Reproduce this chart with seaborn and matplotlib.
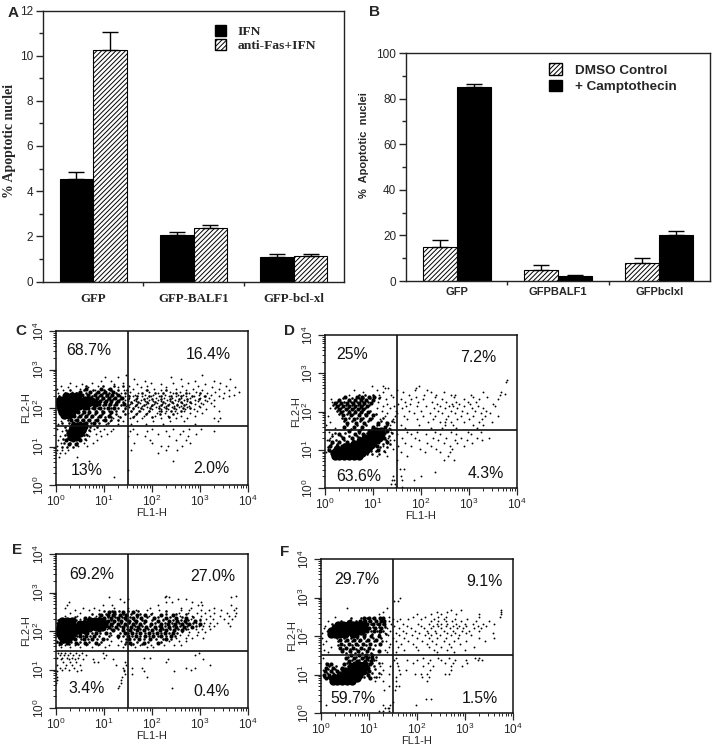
import pandas as pd
import seaborn as sns
import matplotlib
matplotlib.use('Agg')
import matplotlib.pyplot as plt
from matplotlib.patches import Patch

sns.set_style('white')
plt.rcParams['font.family'] = ['Liberation Sans', 'DejaVu Sans']
plt.rcParams['mathtext.default'] = 'regular'
plt.rcParams['hatch.linewidth'] = 0.7

W, H = 720, 754

# Bar panels
a_groups = ['GFP', 'GFP-BALF1', 'GFP-bcl-xl']
a_series = ['IFN', 'anti-Fas+IFN']
a_ifn = [4.55, 2.05, 1.1]
a_ifn_top = [4.85, 2.2, 1.2]
a_fas = [10.25, 2.35, 1.15]
a_fas_top = [11.05, 2.5, 1.2]

b_groups = ['GFP', 'GFPBALF1', 'GFPbclxl']
b_series = ['DMSO Control', '+ Camptothecin']
b_dmso = [15, 4.8, 8]
b_dmso_top = [18, 7.2, 10]
b_campto = [85, 2, 20]
b_campto_top = [86.5, 2.8, 21.8]

# Flow panels, read in decades: {FL2 decade: [FL1 decades]}
c_core = {2.3: [.22, .34, .44], 2.22: [.08, .18, .28, .38, .48, .6, .72], 2.14: [.06, .16, .26, .36, .46, .56, .68, .82],
          2.06: [.08, .18, .28, .38, .48, .6], 1.98: [.1, .2, .3, .4], 1.9: [.14, .24, .34], 1.82: [.18, .28],
          1.54: [.38, .48, .58], 1.44: [.34, .44, .54], 1.34: [.3, .4, .5], 1.24: [.32, .42]}
c_mid = {2.5: [.62, .95, 1.12], 2.42: [.5, .72, .88, 1.02, 1.2], 2.34: [.55, .68, .82, .94, 1.06, 1.18, 1.3],
         2.26: [.86, .98, 1.1, 1.24, 1.38], 2.18: [.92, 1.04, 1.16, 1.3], 2.1: [.9, 1.02, 1.12, 1.26, 1.42],
         2.0: [.68, .8, .92, 1.08, 1.22], 1.9: [.46, .58, .7, .84, .98, 1.14], 1.8: [.38, .5, .62, .76, .92, 1.1],
         1.7: [.32, .44, .56, .7, .86, 1.02], 1.62: [.36, .5, .64, .8], 1.16: [.22, .36, .5], 1.06: [.28, .42]}
c_fill = {2.56: [.62, .98, 1.22, 1.4], 2.48: [.3, .58, .78, 1.0, 1.16, 1.3, 1.48, 1.9, 2.3],
          2.4: [.2, .42, .64, .84, .98, 1.1, 1.26, 1.44, 1.8, 2.06, 2.24, 2.5, 2.7, 3.0],
          2.32: [.06, .5, .76, .9, 1.04, 1.16, 1.34, 1.52, 1.7, 1.94, 2.18, 2.4, 2.6, 2.84, 3.1],
          2.24: [.02, .66, .8, .96, 1.08, 1.2, 1.34, 1.5, 1.66, 1.84, 2.0, 2.2, 2.38, 2.56, 2.74, 2.98],
          2.16: [.9, 1.0, 1.14, 1.26, 1.4, 1.56, 1.72, 1.9, 2.06, 2.24, 2.42, 2.6, 2.8],
          2.08: [.72, .86, .98, 1.1, 1.22, 1.36, 1.5, 1.66, 1.84, 2.0, 2.18, 2.34, 2.52, 2.66],
          2.0: [.62, .76, .88, 1.0, 1.14, 1.3, 1.44, 1.6, 1.78, 1.96, 2.14, 2.3, 2.46, 2.64, 2.8],
          1.92: [.42, .56, .7, .84, .96, 1.1, 1.26, 1.4, 1.56, 1.74, 1.94, 2.2, 2.4, 2.6],
          1.84: [.38, .54, .68, .82, .96, 1.12, 1.26, 1.44, 1.66, 1.88, 2.16, 2.44],
          1.76: [.3, .46, .6, .74, .88, 1.02, 1.16, 1.34, 1.6, 2.0, 2.36], 1.68: [.26, .4, .54, .68, .82, .98, 1.16, 1.3],
          1.6: [.14, .28, .44, .6, .74, .9, 1.08], 1.5: [.2, .3, .62, .72, .86], 1.42: [.22, .6, .7], 1.3: [.2, .58, .66],
          1.2: [.16, .24, .5, .6], 1.1: [.18, .3, .44], 1.0: [.14, .24, .36]}
c_dots = {2.85: [3.05, 1.47], 2.8: [2.39, 1.02, 1.3], 2.76: [3.63, 1.62, 2.6], 2.71: [1.15, .95, 1.85, 2.9, 3.3],
          2.66: [.3, .75, 1.4, 1.98, 2.45, 2.75, 3.42], 2.62: [.55, 1.22, 1.7, 2.2, 3.1],
          2.58: [.1, .42, .88, 1.52, 1.9, 2.62, 2.95, 3.55], 2.54: [.25, .68, 1.3, 1.78, 2.3, 3.25, 3.72],
          2.5: [.02, .5, 1.08, 1.6, 2.05, 2.5, 2.85, 3.4], 2.46: [.15, .82, 1.42, 1.88, 2.18, 2.7, 3.05, 3.6],
          2.42: [.33, 1.2, 1.55, 1.95, 2.38, 2.58, 2.92, 3.32, 3.82], 2.38: [.05, 1.35, 1.72, 2.12, 2.45, 2.78, 3.15, 3.5],
          2.34: [1.28, 1.5, 1.65, 1.85, 2.02, 2.28, 2.55, 2.65, 2.98, 3.22, 3.7],
          2.3: [1.45, 1.6, 1.8, 1.98, 2.15, 2.35, 2.5, 2.72, 2.88, 3.08, 3.4, 3.6],
          2.26: [1.52, 1.7, 1.9, 2.08, 2.25, 2.42, 2.6, 2.8, 3.0, 3.18, 3.48],
          2.22: [1.44, 1.62, 1.78, 1.95, 2.12, 2.32, 2.48, 2.66, 2.9, 3.1, 3.3],
          2.18: [1.5, 1.68, 1.85, 2.02, 2.2, 2.38, 2.55, 2.74, 2.96, 3.14],
          2.14: [1.42, 1.58, 1.75, 1.92, 2.1, 2.28, 2.44, 2.62, 2.82, 3.02, 3.22],
          2.1: [1.54, 1.7, 1.88, 2.05, 2.22, 2.36, 2.52, 2.7, 2.9, 3.06],
          2.06: [1.46, 1.64, 1.8, 1.98, 2.15, 2.3, 2.46, 2.6, 2.78, 2.98, 3.3],
          2.02: [1.52, 1.72, 1.9, 2.08, 2.26, 2.42, 2.56, 2.74, 3.0],
          1.98: [1.44, 1.6, 1.82, 2.0, 2.18, 2.34, 2.5, 2.68, 2.88, 3.12],
          1.92: [1.56, 1.76, 1.95, 2.14, 2.3, 2.48, 2.66, 2.94, 3.4], 1.86: [1.5, 1.7, 1.9, 2.1, 2.28, 2.52, 2.8, 3.04],
          1.8: [1.3, 1.62, 1.84, 2.06, 2.34, 2.6, 2.9], 1.74: [.2, 1.2, 1.55, 1.8, 2.2, 2.5, 2.74, 3.3, 3.42],
          1.66: [.1, 1.12, 1.4, 1.7, 2.02, 2.38, 2.66, 3.38], 1.58: [.05, 1.05, 1.3, 1.56, 1.88, 2.24, 2.9],
          1.46: [.02, .8, 1.0, 1.2, 1.6, 2.0, 2.44, 2.78, 3.02], 1.4: [.14, .72, .92, 1.15, 1.55, 1.9, 2.3, 2.64, 3.3],
          1.33: [.62, .84, 1.06, 1.7, 2.12, 2.58, 2.92], 1.26: [.08, .7, .95, 1.5, 1.86, 2.36, 2.75], 1.18: [.04, .62, .86, 1.96, 2.5, 2.7],
          1.1: [.1, .58, .78, 1.62, 2.0, 2.8], 1.02: [.03, .46, .66, 2.2, 2.34, 2.62], .92: [.02, .14, .26, 1.56, 2.3, 2.52],
          .82: [.0, .08, .2, 2.12], .74: [.06, .44], .62: [.7, 2.45], .4: [1.5], .22: [1.22]}

d_core = {.84: [.2, .3, .4, .5, .6, .7], .92: [.18, .28, .38, .48, .58, .68, .78], 1.0: [.26, .36, .46, .56, .66, .76, .86],
          1.08: [.42, .52, .62, .72, .82, .92], 1.16: [.6, .7, .8, .9, .98], 1.24: [.72, .82, .92, 1.02], 1.32: [.84, .94, 1.04, 1.12],
          1.4: [.96, 1.06, 1.16], 1.48: [1.06, 1.16]}
d_mid = {2.38: [.42, .66, .78, .92, 1.02], 2.3: [.3, .5, .62, .74, .86, 1.0], 2.22: [.2, .34, .46, .58, .7, .82, .96],
         2.14: [.24, .38, .5, .62, .76, .88], 2.06: [.3, .44, .56, .68, .8], 1.98: [.34, .5, .62, .74, .9], 1.9: [.38, .54, .7, .86, 1.0],
         1.8: [.42, .6, .76, .94], 1.7: [.46, .64, .82, 1.1, 1.3], 1.6: [.4, .6, .78, 1.0, 1.24], 1.5: [.5, .7, .92, 1.3], 1.4: [.3, .62, .8],
         1.3: [.38, .56, .7, 1.22], 1.2: [.14, .3, .46, 1.1, 1.3], 1.1: [.1, .24, .36, 1.08], 1.0: [.08, .18, 1.1]}
d_fill = {2.42: [.7, .84, 1.0], 2.34: [.38, .56, .7, .8, .94, 1.12], 2.26: [.26, .4, .54, .66, .8, .9], 2.18: [.16, .3, .44, .56, .68, .8, .92],
          2.1: [.2, .34, .48, .6, .72, .84], 2.02: [.26, .38, .5, .62, .78, .94], 1.94: [.3, .46, .58, .7, .84, 1.06], 1.84: [.36, .5, .66, .8, .98, 1.2],
          1.74: [.4, .56, .72, .9, 1.16, 1.4], 1.64: [.46, .66, .86, 1.08, 1.3], 1.54: [.54, .76, .98, 1.2, 1.36], 1.44: [.2, .42, .7, .88, 1.26, 1.4],
          1.36: [.14, .34, .5, .66, 1.18, 1.34], 1.26: [.08, .22, .4, .58, 1.14, 1.28], 1.16: [.12, .26, .4, .5, 1.02, 1.2, 1.36],
          1.06: [.06, .2, .3, 1.0, 1.14, 1.3], .96: [.1, .16, .96, 1.06, 1.22], .88: [.88, .98, 1.12]}
d_dots = {2.78: [3.78], 2.82: [3.8], 2.45: [3.75], 2.66: [.98, 1.96, 1.2], 2.62: [1.24, 1.32, 1.9], 2.56: [.6, 1.08, 1.5, 1.88, 2.12],
          2.5: [.8, 1.2, 1.62, 2.2, 2.48, 3.3, 3.66], 2.44: [.5, 1.12, 1.38, 1.75, 2.06, 2.32, 2.62, 2.7, 3.04, 3.65],
          2.38: [1.15, 1.42, 1.9, 2.3, 2.68, 3.08, 3.38], 2.32: [.12, 1.28, 1.58, 1.8, 2.04, 2.44, 2.9, 3.2, 3.6],
          2.26: [.15, 1.1, 1.66, 1.94, 2.22, 2.52, 2.72, 2.98, 3.14], 2.2: [1.3, 1.52, 1.78, 2.34, 2.64, 2.8, 3.02, 3.5],
          2.14: [1.2, 1.44, 1.68, 1.92, 2.1, 2.4, 2.58, 2.66, 2.9, 3.18, 3.55], 2.08: [.1, 1.08, 1.36, 1.6, 2.28, 2.5, 2.76, 3.06, 3.3],
          2.02: [1.18, 1.48, 1.74, 2.0, 2.36, 2.62, 2.86, 3.12, 3.36], 1.96: [1.3, 1.5, 1.86, 2.18, 2.44, 2.7, 2.96, 3.24, 3.44],
          1.88: [.06, 1.24, 1.46, 1.64, 2.04, 2.3, 2.56, 2.84, 3.08, 3.34, 3.6], 1.8: [1.14, 1.42, 1.7, 1.92, 2.24, 2.52, 2.76, 3.0, 3.28],
          1.72: [.1, 1.28, 1.44, 2.14, 2.4, 2.5, 2.62, 2.9, 3.2, 3.48], 1.64: [.02, 1.12, 1.36, 1.58, 1.96, 2.5, 2.66, 3.08, 3.3],
          1.56: [.2, .98, 1.34, 1.66, 2.2, 2.44, 2.72, 3.16], 1.46: [.08, 1.1, 1.38, 1.7, 1.92, 2.3, 2.62, 2.98, 3.26],
          1.4: [.14, 1.2, 1.5, 1.8, 2.1, 2.4, 2.72, 3.04], 1.32: [.1, 1.32, 1.6, 1.88, 2.24, 2.52, 2.84, 3.16, 3.42],
          1.26: [.05, 1.36, 1.44, 1.96, 2.36, 2.7, 2.96, 3.28], 1.18: [.16, 1.3, 1.66, 2.12, 2.48, 2.76, 3.06],
          1.1: [.1, 1.2, 1.52, 1.8, 2.2, 2.6, 2.9], 1.02: [.06, 1.12, 1.42, 1.98, 2.32, 2.64], .94: [.02, 1.24, 1.58, 2.08, 2.4, 2.6],
          .84: [1.08, 1.3, 1.7, 2.56], .72: [1.5, 2.48, 2.68], .5: [1.56, 1.64], .42: [2.3], .32: [2.0, 1.58, 1.42], .2: [1.4, 1.6, 1.86, 1.44],
          .1: [1.45, 1.38], .02: [1.48, 1.6]}

e_core = {2.26: [.14, .24, .34, .72, .82, .92], 2.18: [.1, .2, .3, .5, .6, .7, .8, .9, 1.0], 2.1: [.08, .18, .28, .4, .52, .62, .72, .84, .96],
          2.02: [.06, .16, .26, .36, .48, .6], 1.94: [.06, .16, .26, .36], 1.86: [.12, .22, .32], 1.78: [.16, .26]}
e_mid = {2.5: [1.1, 1.22, 1.4, 1.6], 2.42: [.95, 1.08, 1.2, 1.34, 1.46, 1.7, 1.86, 2.2, 2.44], 2.34: [.6, 1.0, 1.14, 1.3, 1.44, 1.6, 1.78, 2.04, 2.3, 2.5, 2.7],
         2.26: [1.08, 1.22, 1.36, 1.52, 1.68, 1.86, 2.12, 2.36, 2.52, 2.68, 2.9], 2.18: [1.14, 1.3, 1.44, 1.6, 1.76, 1.98, 2.2, 2.34, 2.48, 2.62, 2.78, 3.0],
         2.1: [1.1, 1.26, 1.4, 1.56, 1.72, 1.88, 2.06, 2.2, 2.36, 2.5, 2.66, 2.84], 2.02: [.72, .9, 1.2, 1.4, 1.54, 1.7, 1.84, 2.0, 2.16, 2.3, 2.46, 2.62],
         1.94: [.5, .66, .84, 1.04, 1.44, 1.58, 1.76, 1.94, 2.1, 2.28, 2.44], 1.86: [.5, .62, .8, 1.3, 1.5, 1.66, 1.86, 2.02, 2.2, 2.4],
         1.78: [.4, .58, .76, .98, 1.52, 1.74, 1.96, 2.3], 1.7: [.08, .24, .42, .6, .84, 1.54, 1.84, 2.12]}
e_fill = {2.52: [1.0, 1.18, 1.32, 1.5, 1.72, 2.3], 2.44: [.76, .9, 1.04, 1.24, 1.4, 1.56, 1.76, 1.98, 2.3, 2.5, 2.72],
          2.36: [.4, .7, .9, 1.08, 1.24, 1.38, 1.54, 1.7, 1.9, 2.12, 2.38, 2.62, 2.86],
          2.28: [.04, .42, .58, 1.02, 1.16, 1.3, 1.46, 1.62, 1.8, 2.0, 2.24, 2.44, 2.6, 2.76, 3.0],
          2.2: [.02, 1.06, 1.2, 1.36, 1.52, 1.68, 1.84, 2.06, 2.28, 2.42, 2.56, 2.7, 2.86],
          2.12: [1.06, 1.18, 1.34, 1.48, 1.64, 1.8, 1.96, 2.14, 2.28, 2.44, 2.58, 2.74, 2.92],
          2.04: [.66, .8, 1.0, 1.14, 1.3, 1.48, 1.62, 1.76, 1.92, 2.08, 2.24, 2.38, 2.54, 2.7],
          1.96: [.44, .6, .76, .92, 1.12, 1.34, 1.5, 1.68, 1.86, 2.02, 2.18, 2.36, 2.52],
          1.88: [.44, .56, .72, .9, 1.1, 1.4, 1.58, 1.76, 1.94, 2.12, 2.3, 2.48],
          1.8: [.38, .52, .68, .86, 1.06, 1.46, 1.62, 1.84, 2.08, 2.24, 2.4],
          1.72: [.02, .16, .32, .5, .7, .94, 1.46, 1.7, 1.92, 2.2], 1.66: [.1, .28, .46, .66, .9, 1.44, 1.6, 1.8]}
e_dots = {2.92: [2.3, 3.75], 2.88: [1.1, 2.35, 3.65, 2.28], 2.82: [1.34, 1.5, 2.55, 2.72], 2.76: [.28, 1.42, 2.3, 2.42, 2.84, 3.02],
          2.68: [.24, .98, 1.18, 2.12, 2.96, 3.04, 3.64], 2.6: [.2, .56, .8, 1.22, 1.5, 1.96, 2.6, 2.82, 3.3, 3.74],
          2.54: [.4, .7, .9, 1.68, 1.9, 2.14, 2.6, 2.78, 3.02, 3.18, 3.44, 3.7], 2.46: [.3, .5, 2.0, 2.56, 2.76, 2.94, 3.1, 3.3, 3.56, 3.76],
          2.38: [.2, .44, .84, 1.94, 2.58, 2.84, 3.02, 3.2, 3.42, 3.6, 3.72], 2.3: [.1, .5, 2.24, 2.82, 3.0, 3.12, 3.28, 3.5, 3.66],
          2.22: [.04, .48, 2.74, 2.92, 3.08, 3.2, 3.36, 3.58], 2.14: [.03, 1.02, 2.98, 3.06, 3.18, 3.3, 3.62], 2.06: [.02, 1.06, 2.76, 2.92, 3.04, 3.2],
          1.98: [.0, 2.62, 2.78, 2.96, 3.1], 1.9: [.03, 1.16, 2.58, 2.76, 2.94], 1.82: [.1, 1.3, 2.5, 2.7, 2.84, 3.06], 1.74: [.02, 1.16, 1.36, 2.36, 2.56, 2.72],
          1.64: [.06, .2, .4, .62, .88, 1.1, 1.3, 1.56, 1.76, 1.98, 2.26, 2.46, 2.6], 1.58: [.12, .3, .5, .76, 1.02, 1.4, 1.64, 1.9, 2.02],
          1.44: [.04, .1, .2, .3, .42, .54, .98, 2.98], 1.38: [.08, .18, .26, .36, .48, .62, 2.9, 1.04], 1.3: [.02, .14, .24, .34, .46, 1.0, 1.84, 1.96],
          1.26: [.1, .28, .4, .56, .78, 1.2, 2.34, 3.06], 1.2: [.16, .3, .42, .8, .88, 1.44, 2.3], 1.12: [.02, .22, .34, .5, 1.26, 1.46, 3.2],
          1.04: [.08, .2, .38, 1.4, 1.58, 1.8, 2.9, 2.72], 1.0: [.14, .28, .52, 1.42, 2.82], .96: [.02, .44, 1.42, 2.46, 1.84],
          .88: [.0, 1.44, 1.58], .8: [.02, 1.38, 1.9], .72: [.02, 1.36], .64: [1.35, .0], .56: [1.32], .52: [1.3, 2.42]}

f_core = {2.28: [.36, .46, .56, .66, .76, .86], 2.2: [.3, .4, .5, .6, .7, .8, .9], 2.12: [.2, .3, .4, .5, .6, .7, .84], 2.04: [.2, .3, .4, .5, .66],
          1.24: [.7, .8, .9], 1.16: [.62, .72, .82, .9], 1.08: [.5, .6, .7, .8, .88], 1.0: [.4, .5, .6, .7, .8], .92: [.28, .38, .48, .58, .68, .76],
          .84: [.24, .34, .44, .54, .64]}
f_mid = {2.46: [.9, 1.0, 1.1, 1.22, 1.3], 2.38: [.6, .82, .92, 1.02, 1.14, 1.26, 1.32], 2.3: [.96, 1.08, 1.2, 1.32], 2.22: [1.0, 1.12, 1.26],
         2.12: [.96, 1.1, 1.22], 2.0: [.76, .9, 1.04, 1.2], 1.9: [.4, .54, .68, .82, .98, 1.14], 1.8: [.42, .58, .72, .88, 1.02, 1.22], 1.7: [.4, .52, .66, .84, 1.0],
         1.6: [.44, .6, .78, .96, 1.2], 1.5: [.62, .8, .94, 1.06], 1.42: [.52, .68, .86, .96, 1.06], 1.34: [.58, .74, .92, 1.04], 1.28: [.12, .2, .48, .6, 1.02],
         1.18: [.1, .26, .44, .98], 1.08: [.08, .2, .34, 1.0], .98: [.06, .16, .28, .98], .9: [.1, .18, 1.02]}
f_fill = {2.48: [.62, .84, .96, 1.08, 1.24], 2.4: [.42, .56, .72, .88, 1.0, 1.14, 1.28], 2.32: [.22, .92, 1.04, 1.16, 1.3], 2.24: [.96, 1.08, 1.2, 1.34],
          2.14: [.92, 1.04, 1.16, 1.3], 2.06: [.78, .92, 1.06, 1.2, 1.36], 1.96: [.34, .48, .62, .76, .9, 1.08, 1.26], 1.86: [.36, .5, .64, .8, .94, 1.1, 1.28],
          1.76: [.36, .48, .64, .78, .94, 1.12], 1.66: [.46, .6, .72, .9, 1.08], 1.56: [.52, .7, .86, 1.04], 1.46: [.56, .72, .9, 1.0, 1.14],
          1.38: [.64, .8, .98, 1.1], 1.3: [.54, .96, 1.06, 1.2], 1.22: [.16, .32, .56, .98, 1.1], 1.14: [.14, .3, .42, .96, 1.12],
          1.04: [.12, .24, .36, .96, 1.06, 1.2], .94: [.06, .14, .24, .9, 1.0, 1.14]}
f_dots = {2.98: [1.65], 2.9: [1.52, 1.6], 2.72: [.55, 1.38], 2.68: [2.7, 2.92, 3.76], 2.62: [1.3, 2.42, 2.62, 3.76], 2.56: [1.2, 2.0, 2.3, 2.5, 2.82, 3.3, 3.74],
          2.5: [.3, 1.42, 1.92, 2.16, 2.44, 2.6, 3.3, 3.72], 2.44: [1.5, 1.64, 1.82, 2.08, 2.36, 2.56, 2.8, 3.04], 2.38: [.14, 1.42, 1.58, 2.3, 2.44, 2.6, 2.72, 2.92, 3.22, 3.5],
          2.32: [1.46, 1.7, 2.02, 2.26, 2.42, 2.5, 2.62, 2.82, 3.0, 3.16, 3.38, 3.6], 2.26: [.08, 1.34, 1.52, 1.8, 2.08, 2.34, 2.44, 2.6, 2.76, 2.88, 3.02, 3.28, 3.44],
          2.2: [.06, 1.38, 1.62, 1.88, 2.14, 2.3, 2.5, 2.68, 2.84, 2.96, 3.18, 3.34], 2.14: [.12, 1.44, 1.7, 1.96, 2.2, 2.38, 2.56, 2.74, 2.94, 3.08, 3.3],
          2.08: [.02, 1.34, 1.56, 1.78, 2.04, 2.22, 2.4, 2.62, 2.8, 3.02, 3.58], 2.02: [.16, 1.4, 1.62, 1.9, 2.16, 2.3, 2.48, 2.7, 2.88, 3.12],
          1.96: [.02, 1.5, 1.72, 2.0, 2.24, 2.42, 2.6, 2.86, 3.3, 3.6], 1.88: [.1, 1.36, 1.56, 1.82, 2.1, 2.32, 2.56, 2.78, 3.02, 3.42], 1.8: [.04, 1.44, 1.66, 1.92, 2.2, 2.4, 2.66, 2.9],
          1.72: [.2, 1.42, 1.6, 1.98, 2.26, 2.5, 2.7, 3.18], 1.64: [.06, 1.34, 1.72, 2.02, 2.36, 2.62, 3.0], 1.58: [.14, 1.38, 1.56, 2.42, 2.78],
          1.44: [.04, 1.56, 2.12, 2.44, 2.66, 3.2, 3.3], 1.38: [1.14, 1.52, 1.8, 2.0, 2.28, 2.5, 2.8, 3.02, 3.28, 3.36], 1.3: [.1, 1.28, 1.58, 1.92, 2.22, 2.58, 2.76, 3.04],
          1.22: [1.22, 1.44, 1.6, 2.12, 2.34, 2.7, 2.94], 1.12: [.05, 1.3, 1.62, 1.78, 2.28, 2.7], 1.02: [1.26, 1.42, 1.64, 1.96, 2.08, 2.2, 2.58, 2.66],
          .94: [1.2, 1.1, 1.56, 2.1, 2.24], .82: [1.3, 1.12, 1.56, 2.2], .7: [1.56, 1.62, 1.42], .6: [1.55, 1.32], .36: [2.18, 2.3], .28: [1.5], .2: [.1, 1.44, 1.98, 1.3],
          .12: [1.4, 1.42, 1.34], .04: [1.42, 1.2, 1.3]}

flow_panels = [
    ('C', (55.7, 331, 248, 485), [c_core, c_mid, c_fill, c_dots], (1.495, 1.53), ['68.7%', '16.4%', '13%', '2.0%'],
     [(.173, .875), (.796, .849), (.161, .093), (.81, .104)], (15, 331)),
    ('D', (325, 335, 517, 488), [d_core, d_mid, d_fill, d_dots], (1.49, 1.52), ['25%', '7.2%', '63.6%', '4.3%'],
     [(.142, .87), (.797, .854), (.175, .078), (.84, .098)], (284, 331)),
    ('E', (55.7, 554, 248, 708), [e_core, e_mid, e_fill, e_dots], (1.5, 1.49), ['69.2%', '27.0%', '3.4%', '0.4%'],
     [(.187, .868), (.815, .853), (.161, .125), (.81, .104)], (12, 550)),
    ('F', (321, 559, 513, 713), [f_core, f_mid, f_fill, f_dots], (1.51, 1.51), ['29.7%', '9.1%', '59.7%', '1.5%'],
     [(.187, .868), (.853, .853), (.166, .091), (.827, .097)], (280, 552)),
]
layer_sizes = [36, 9, 3.5, 1.8]

fig = plt.figure(figsize=(W / 100, H / 100), dpi=100)


def add_axes(left, top, right, bottom):
    return fig.add_axes([left / W, 1 - bottom / H, (right - left) / W, (bottom - top) / H])


def rows_to_df(rows):
    pts = [(10 ** x, 10 ** y) for y, xs in rows.items() for x in xs]
    return pd.DataFrame(pts, columns=['FL1', 'FL2'])


def bar_panel(ax, groups, series, vals, tops, palette, ymax, yticks, minor):
    df = pd.DataFrame({
        'group': groups * 2,
        'series': [series[0]] * 3 + [series[1]] * 3,
        'value': vals[0] + vals[1],
    })
    sns.barplot(df, x='group', y='value', hue='series', palette=palette, hue_order=series, order=groups,
                width=0.67, gap=0, edgecolor='black', linewidth=0.8, legend=False, saturation=1, ax=ax)
    bars = list(ax.patches)
    for i, (bar, top) in enumerate(zip(bars, tops[0] + tops[1])):
        if palette[series[0 if i < 3 else 1]] == 'white':
            bar.set_hatch('///////')
        cx = bar.get_x() + bar.get_width() / 2
        ax.errorbar(cx, bar.get_height(), yerr=[[0], [top - bar.get_height()]], color='black', capsize=5.5, lw=1, capthick=1)
    ax.set_xlim(-0.5, 2.5)
    ax.set_ylim(0, ymax)
    ax.set_yticks(yticks)
    ax.set_yticks(minor, minor=True)
    ax.set_xticks([0.5, 1.5], minor=True)
    ax.tick_params(axis='y', which='major', length=5, width=1, left=True, direction='out', labelsize=8.5, pad=2)
    ax.tick_params(axis='y', which='minor', length=3, width=1, left=True, direction='out')
    ax.tick_params(axis='x', which='minor', length=3, width=1, bottom=True, direction='out')
    ax.tick_params(axis='x', which='major', length=0)
    ax.set_xlabel('')
    for s in ax.spines.values():
        s.set_linewidth(1)
        s.set_color('#222222')


# A
ax = add_axes(43, 10.5, 344, 281.5)
bar_panel(ax, a_groups, a_series, [a_ifn, a_fas], [a_ifn_top, a_fas_top], {'IFN': 'black', 'anti-Fas+IFN': 'white'},
          12, [0, 2, 4, 6, 8, 10, 12], [1, 3, 5, 7, 9, 11])
ax.set_ylabel('% Apoptotic nuclei', family='Liberation Serif', fontweight='bold', fontsize=10)
ax.yaxis.set_label_coords((16 - 43) / 301, (281.5 - 141) / 271)
ax.tick_params(axis='x', which='major', pad=8)
for t in ax.get_xticklabels():
    t.set_family('Liberation Serif')
    t.set_fontweight('bold')
    t.set_fontsize(9.3)
ax.legend(handles=[Patch(fc='black', ec='black', label=a_series[0]),
                   Patch(fc='white', ec='black', hatch='///////', label=a_series[1])],
          loc='upper left', bbox_to_anchor=(0.5625, 0.955), frameon=False, handlelength=0.85, handleheight=0.85,
          handletextpad=0.8, labelspacing=0.05, borderaxespad=0, prop={'family': 'Liberation Serif', 'weight': 'bold', 'size': 9.7}, borderpad=0.2)

# B
ax = add_axes(406, 53, 710, 281)
bar_panel(ax, b_groups, b_series, [b_dmso, b_campto], [b_dmso_top, b_campto_top], {'DMSO Control': 'white', '+ Camptothecin': 'black'},
          100, [0, 20, 40, 60, 80, 100], [10, 30, 50, 70, 90])
ax.set_ylabel('%  Apoptotic  nuclei', fontweight='bold', fontsize=8)
ax.yaxis.set_label_coords((369 - 406) / 304, (281 - 145) / 228)
ax.tick_params(axis='x', which='major', pad=4)
for t in ax.get_xticklabels():
    t.set_fontweight('bold')
    t.set_fontsize(8)
ax.legend(handles=[Patch(fc='white', ec='black', hatch='///////', label=b_series[0]),
                   Patch(fc='black', ec='black', label=b_series[1])],
          loc='upper left', bbox_to_anchor=(0.4615, 0.966), frameon=False, handlelength=1.0, handleheight=0.95,
          handletextpad=0.93, labelspacing=0.2, borderaxespad=0, prop={'weight': 'bold', 'size': 9.7}, borderpad=0.2)

fig.text(8 / W, 1 - 13 / H, 'A', fontweight='bold', fontsize=11, va='center')
fig.text(369 / W, 1 - 12 / H, 'B', fontweight='bold', fontsize=11, va='center')

# C-F
for name, rect, layers, (qx, qy), labels, label_pos, name_pos in flow_panels:
    ax = add_axes(*rect)
    ax.set_xscale('log')
    ax.set_yscale('log')
    for rows, size in zip(layers, layer_sizes):
        sns.scatterplot(rows_to_df(rows), x='FL1', y='FL2', color='black', s=size, linewidth=0, ax=ax)
    ax.axvline(10 ** qx, color='#111111', lw=1.2)
    ax.axhline(10 ** qy, color='#111111', lw=1.2)
    ax.set_xlim(1, 1e4)
    ax.set_ylim(1, 1e4)
    ax.set_xticks([1, 10, 100, 1000, 10000])
    ax.set_yticks([1, 10, 100, 1000, 10000])
    ax.tick_params(which='major', length=5, width=0.9, bottom=True, left=True, labelsize=8.5, pad=1.5)
    ax.tick_params(which='minor', length=2.5, width=0.7, bottom=True, left=True)
    ax.tick_params(axis='y', labelrotation=90)
    for t in ax.get_yticklabels():
        t.set_va('center')
    ax.set_xlabel('FL1-H', fontsize=8, labelpad=-1)
    ax.set_ylabel('FL2-H', fontsize=8, labelpad=0)
    for s in ax.spines.values():
        s.set_linewidth(1.1)
        s.set_color('#111111')
    for lab, (lx, ly) in zip(labels, label_pos):
        ax.text(lx, ly, lab, transform=ax.transAxes, ha='center', va='center', fontsize=11.4, color='#111111')
    fig.text(name_pos[0] / W, 1 - name_pos[1] / H, name, fontweight='bold', fontsize=11, va='center')

fig.savefig('out.png', dpi=100)
